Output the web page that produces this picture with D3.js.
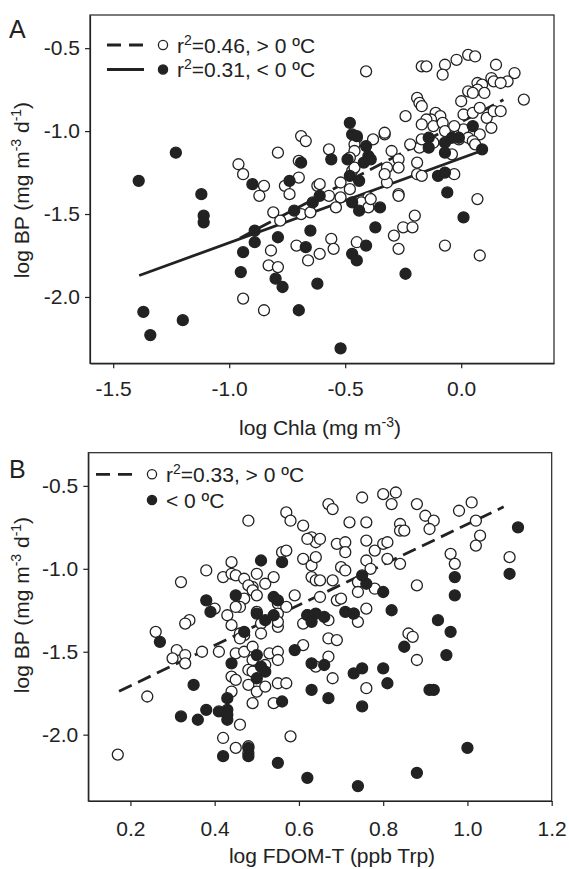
<!DOCTYPE html>
<html>
<head>
<meta charset="utf-8">
<script src="https://d3js.org/d3.v7.min.js"></script>
<style>
  body { margin: 0; background: #fff; }
  svg { display: block; }
  text { font-family: "Liberation Sans", Arial, sans-serif; fill: #222; }
</style>
</head>
<body>
<svg id="chart" width="569" height="869"></svg>
<script>
// ---- data ----
// panel A: log Chla vs log BP
var chlaWarm = [
  [-0.69,-1.03],[-0.67,-1.06],[-0.79,-1.13],[-0.96,-1.20],[-0.94,-1.26],[-0.85,-1.33],[-0.87,-1.39],[-0.70,-1.18],
  [-0.70,-1.28],[-0.76,-1.33],[-0.74,-1.38],[-0.62,-1.33],[-0.41,-0.64],[-0.17,-0.61],[-0.15,-0.61],[-0.07,-0.60],
  [-0.08,-0.66],[-0.02,-0.57],[0.03,-0.54],[0.06,-0.55],[0.15,-0.60],[0.23,-0.65],[0.20,-0.70],[0.13,-0.68],
  [0.14,-0.70],[0.17,-0.71],[0.07,-0.71],[0.09,-0.72],[0.07,-0.75],[0.03,-0.76],[0.10,-0.77],[0.05,-0.77],
  [0.27,-0.81],[0.00,-0.82],[-0.19,-0.80],[-0.18,-0.83],[-0.17,-0.85],[-0.24,-0.91],[-0.11,-0.89],[-0.09,-0.91],
  [-0.13,-0.93],[-0.15,-0.93],[-0.17,-0.96],[-0.12,-0.97],[-0.08,-0.95],[-0.07,-1.00],[0.01,-0.90],[0.05,-0.89],
  [0.08,-0.86],[0.11,-0.92],[0.14,-0.88],[0.17,-0.88],[0.13,-0.98],[0.01,-0.99],[-0.03,-0.97],[-0.01,-1.05],
  [0.03,-1.04],[0.08,-1.02],[0.05,-1.06],[0.06,-1.08],[-0.04,-1.14],[-0.12,-1.07],[-0.18,-1.10],[-0.22,-1.08],
  [-0.17,-1.05],[-0.33,-1.02],[-0.33,-1.01],[-0.30,-1.12],[-0.27,-1.17],[-0.32,-1.22],[-0.27,-1.22],[-0.32,-1.31],
  [-0.19,-1.19],[-0.19,-1.26],[-0.17,-1.27],[-0.03,-1.26],[0.07,-1.41],[-0.27,-1.38],[-0.45,-1.04],[-0.38,-1.05],
  [-0.46,-1.08],[-0.46,-1.12],[-0.57,-1.11],[-0.48,-1.16],[-0.47,-1.24],[-0.46,-1.22],[-0.61,-1.32],[-0.52,-1.31],
  [-0.48,-1.35],[-0.57,-1.39],[-0.52,-1.40],[-0.40,-1.40],[-0.33,-1.26],[-0.81,-1.49],[-0.78,-1.54],[-0.69,-1.50],
  [-0.65,-1.49],[-0.82,-1.72],[-0.71,-1.69],[-0.66,-1.78],[-0.83,-1.81],[-0.79,-1.82],[-0.94,-2.01],[-0.85,-2.08],
  [-0.61,-1.74],[-0.54,-1.46],[-0.43,-1.43],[-0.40,-1.46],[-0.39,-1.41],[-0.27,-1.39],[-0.20,-1.51],[-0.25,-1.58],
  [-0.21,-1.58],[-0.29,-1.63],[-0.56,-1.65],[-0.55,-1.71],[-0.45,-1.67],[-0.27,-1.71],[-0.07,-1.69],[0.08,-1.75]
];
var chlaCold = [
  [-1.23,-1.13],[-1.39,-1.30],[-1.12,-1.38],[-0.90,-1.32],[-0.69,-1.19],[-0.74,-1.30],[0.05,-0.97],[-0.04,-1.04],
  [-0.01,-1.04],[0.09,-1.11],[-0.07,-1.13],[-0.07,-1.07],[-0.14,-1.04],[-0.14,-1.10],[-0.10,-1.27],[-0.07,-1.25],
  [-0.06,-1.37],[-0.48,-0.95],[-0.47,-1.02],[-0.45,-1.03],[-0.41,-1.09],[-0.40,-1.15],[-0.42,-1.19],[-0.39,-1.17],
  [-0.56,-1.17],[-0.49,-1.17],[-0.48,-1.27],[-0.44,-1.30],[-0.61,-1.39],[-1.11,-1.51],[-1.11,-1.55],[-1.37,-2.09],
  [-1.34,-2.23],[-1.20,-2.14],[-0.72,-1.48],[-0.89,-1.60],[-0.89,-1.67],[-0.79,-1.64],[-0.94,-1.73],[-0.95,-1.85],
  [-0.67,-1.70],[-0.65,-1.60],[-0.80,-1.89],[-0.77,-1.94],[-0.62,-1.92],[-0.70,-2.08],[-0.64,-1.43],[-0.47,-1.43],
  [-0.44,-1.48],[-0.35,-1.46],[0.01,-1.52],[-0.37,-1.58],[-0.41,-1.69],[-0.47,-1.74],[-0.45,-1.78],[-0.24,-1.86],
  [-0.52,-2.31]
];
// regression fits: [slope, intercept, xmin, xmax]
var chlaWarmFit = [0.734, -0.945, -0.954, 0.182];
var chlaColdFit = [0.51, -1.163, -1.388, 0.079];

// panel B: log FDOM-T vs log BP
var fdomWarm = [
  [0.48,-0.71],[0.57,-0.66],[0.58,-0.71],[0.61,-0.74],[0.63,-0.81],[0.64,-0.84],[0.62,-0.82],[0.56,-0.90],
  [0.57,-0.89],[0.44,-0.96],[0.61,-0.94],[0.63,-0.98],[0.64,-0.93],[0.38,-1.01],[0.32,-1.08],[0.42,-1.05],
  [0.44,-1.03],[0.45,-1.04],[0.47,-1.06],[0.50,-1.03],[0.49,-1.11],[0.48,-1.10],[0.49,-1.13],[0.50,-1.16],
  [0.52,-1.09],[0.54,-1.05],[0.63,-1.05],[0.64,-1.07],[0.47,-1.18],[0.46,-1.23],[0.55,-1.21],[0.59,-1.16],
  [0.57,-1.23],[0.40,-1.24],[0.43,-1.28],[0.34,-1.31],[0.75,-0.57],[0.80,-0.55],[0.83,-0.54],[0.82,-0.61],
  [0.88,-0.61],[0.67,-0.61],[0.68,-0.64],[0.72,-0.72],[0.76,-0.72],[0.90,-0.68],[0.92,-0.71],[0.91,-0.76],
  [0.84,-0.73],[0.84,-0.77],[0.85,-0.77],[0.98,-0.65],[1.01,-0.60],[1.02,-0.71],[1.03,-0.80],[1.02,-0.86],
  [0.96,-0.91],[0.97,-0.97],[1.10,-0.93],[0.88,-1.10],[0.65,-0.82],[0.69,-0.85],[0.71,-0.84],[0.71,-0.90],
  [0.76,-0.83],[0.78,-0.89],[0.80,-0.85],[0.81,-0.84],[0.81,-0.94],[0.84,-0.97],[0.76,-0.95],[0.77,-1.00],
  [0.70,-0.99],[0.71,-1.01],[0.65,-1.07],[0.68,-1.07],[0.74,-1.08],[0.74,-1.14],[0.78,-1.12],[0.65,-1.17],
  [0.69,-1.19],[0.70,-1.18],[0.76,-1.24],[0.45,-1.23],[0.50,-1.26],[0.51,-1.33],[0.55,-1.27],[0.26,-1.38],
  [0.33,-1.33],[0.44,-1.34],[0.46,-1.39],[0.47,-1.40],[0.46,-1.42],[0.51,-1.39],[0.55,-1.35],[0.55,-1.32],
  [0.62,-1.28],[0.61,-1.46],[0.31,-1.49],[0.30,-1.54],[0.33,-1.52],[0.33,-1.57],[0.37,-1.50],[0.41,-1.50],
  [0.45,-1.51],[0.47,-1.50],[0.49,-1.47],[0.49,-1.55],[0.53,-1.51],[0.55,-1.50],[0.55,-1.55],[0.52,-1.58],
  [0.48,-1.61],[0.49,-1.62],[0.44,-1.65],[0.45,-1.67],[0.48,-1.70],[0.50,-1.74],[0.52,-1.71],[0.55,-1.69],
  [0.57,-1.69],[0.64,-1.59],[0.24,-1.77],[0.44,-1.74],[0.49,-1.81],[0.54,-1.81],[0.46,-1.94],[0.42,-2.02],
  [0.58,-2.01],[0.45,-2.08],[0.48,-2.07],[0.48,-2.11],[0.17,-2.12],[0.73,-1.27],[0.74,-1.32],[0.67,-1.31],
  [0.61,-1.33],[0.86,-1.39],[0.87,-1.41],[0.88,-1.55],[0.67,-1.42],[0.69,-1.43],[0.67,-1.53],[0.68,-1.66],
  [0.76,-1.72]
];
var fdomCold = [
  [0.51,-0.95],[0.56,-0.96],[0.38,-1.19],[0.45,-1.16],[0.54,-1.17],[0.55,-1.19],[0.39,-1.26],[0.50,-1.27],
  [0.52,-1.31],[0.54,-1.28],[0.62,-1.28],[0.64,-1.27],[1.12,-0.75],[1.10,-1.03],[0.97,-1.05],[0.97,-1.16],
  [0.75,-1.04],[0.76,-1.09],[0.80,-1.14],[0.82,-1.25],[0.71,-1.26],[0.73,-1.27],[0.66,-1.29],[0.93,-1.31],
  [0.27,-1.44],[0.47,-1.38],[0.63,-1.32],[0.59,-1.49],[0.44,-1.57],[0.50,-1.52],[0.51,-1.59],[0.52,-1.62],
  [0.50,-1.66],[0.63,-1.57],[0.63,-1.73],[0.35,-1.70],[0.43,-1.78],[0.43,-1.85],[0.43,-1.88],[0.43,-1.91],
  [0.41,-1.86],[0.38,-1.85],[0.56,-1.80],[0.32,-1.89],[0.36,-1.91],[0.48,-2.13],[0.42,-2.13],[0.48,-2.08],
  [0.55,-2.17],[0.62,-2.26],[0.96,-1.38],[0.95,-1.52],[0.85,-1.47],[0.66,-1.58],[0.73,-1.63],[0.75,-1.60],
  [0.80,-1.60],[0.81,-1.69],[0.67,-1.78],[0.75,-1.83],[0.91,-1.73],[0.92,-1.73],[1.00,-2.08],[0.74,-2.31],
  [0.88,-2.23]
];
var fdomWarmFit = [1.218, -1.949, 0.173, 1.086];

var bpTicks = [-2.0, -1.5, -1.0, -0.5];
var chlaTicks = [-1.5, -1.0, -0.5, 0.0];
var fdomTicks = [0.2, 0.4, 0.6, 0.8, 1.0, 1.2];

var ink = "#222";
var fs = 21, fsSup = 14;
var svg = d3.select("#chart");

function fmt(d) { return d.toFixed(1); }

function panel(o) {
  var g = svg.append("g");
  var x = d3.scaleLinear().domain(o.xDomain).range([o.left, o.right]);
  var y = d3.scaleLinear().domain([-2.4, -0.3]).range([o.bottom, o.top]);

  // frame
  g.append("rect")
    .attr("x", o.left).attr("y", o.top)
    .attr("width", o.right - o.left).attr("height", o.bottom - o.top)
    .attr("fill", "none").attr("stroke", ink).attr("stroke-width", 1.2);

  var yAx = g.append("g").attr("transform", "translate(" + o.left + ",0)")
    .call(d3.axisLeft(y).tickValues(bpTicks).tickFormat(fmt).tickSize(5).tickSizeOuter(0).tickPadding(5));
  var xAx = g.append("g").attr("transform", "translate(0," + o.bottom + ")")
    .call(d3.axisBottom(x).tickValues(o.xTicks).tickFormat(fmt).tickSize(5).tickSizeOuter(0).tickPadding(o.xPad));
  [yAx, xAx].forEach(function(a) {
    a.selectAll("path, line").attr("stroke", ink).attr("stroke-width", 1.2);
    a.selectAll("text").attr("font-size", fs).attr("fill", ink)
      .style("font-family", "'Liberation Sans', Arial, sans-serif");
  });

  // axis titles
  var yt = g.append("text")
    .attr("transform", "translate(" + 29 + "," + o.yTitleY + ") rotate(-90)")
    .attr("text-anchor", "middle").attr("font-size", fs);
  yt.append("tspan").text("log BP (mg m");
  yt.append("tspan").attr("baseline-shift", "super").attr("font-size", fsSup).text("-3");
  yt.append("tspan").text(" d");
  yt.append("tspan").attr("baseline-shift", "super").attr("font-size", fsSup).text("-1");
  yt.append("tspan").text(")");

  var xt = g.append("text")
    .attr("x", o.xTitleX).attr("y", o.xTitleY)
    .attr("text-anchor", "middle").attr("font-size", fs);
  o.xTitle.forEach(function(p) {
    var t = xt.append("tspan").text(p[0]);
    if (p[1]) t.attr("baseline-shift", "super").attr("font-size", fsSup);
  });

  g.append("text").attr("x", 9).attr("y", o.letterY)
    .attr("font-size", 25).text(o.letter);

  // fit lines
  o.fits.forEach(function(f) {
    var p = f.fit;
    g.append("line")
      .attr("x1", x(p[2])).attr("y1", y(p[0] * p[2] + p[1]))
      .attr("x2", x(p[3])).attr("y2", y(p[0] * p[3] + p[1]))
      .attr("stroke", ink).attr("stroke-width", 2.8)
      .attr("stroke-dasharray", f.dash ? "14,7" : null);
  });

  // points
  g.append("g").selectAll("circle").data(o.warm).enter().append("circle")
    .attr("cx", function(d) { return x(d[0]); })
    .attr("cy", function(d) { return y(d[1]); })
    .attr("r", 5.5).attr("fill", "#fff").attr("stroke", ink).attr("stroke-width", 1.3);
  g.append("g").selectAll("circle").data(o.cold).enter().append("circle")
    .attr("cx", function(d) { return x(d[0]); })
    .attr("cy", function(d) { return y(d[1]); })
    .attr("r", 5.5).attr("fill", ink).attr("stroke", ink).attr("stroke-width", 1.3);

  // legend
  o.legend.forEach(function(l, i) {
    var ly = o.legendY + i * o.legendStep;
    if (l.line) {
      g.append("line").attr("x1", o.legendX).attr("x2", o.legendX + 37)
        .attr("y1", ly).attr("y2", ly)
        .attr("stroke", ink).attr("stroke-width", 2.8)
        .attr("stroke-dasharray", l.line === "dash" ? "14,8" : null);
    }
    g.append("circle").attr("cx", o.legendX + 56).attr("cy", ly).attr("r", 4.6)
      .attr("fill", l.open ? "#fff" : ink).attr("stroke", ink).attr("stroke-width", 1.3);
    var t = g.append("text").attr("x", o.legendX + 70).attr("y", ly + 7.5).attr("font-size", fs);
    if (l.r2) {
      t.append("tspan").text("r");
      t.append("tspan").attr("baseline-shift", "super").attr("font-size", fsSup).text("2");
      t.append("tspan").text("=" + l.r2 + ", " + l.label);
    } else {
      t.text(l.label);
    }
  });
}

panel({
  letter: "A", letterY: 38,
  left: 90, right: 554, top: 15, bottom: 363.3,
  xDomain: [-1.6, 0.4], xTicks: chlaTicks, xPad: 13,
  xTitle: [["log Chla (mg m"], ["-3", true], [")"]], xTitleX: 320, xTitleY: 435, yTitleY: 190,
  warm: chlaWarm, cold: chlaCold,
  fits: [{fit: chlaWarmFit, dash: true}, {fit: chlaColdFit, dash: false}],
  legendX: 107, legendY: 45, legendStep: 24.5,
  legend: [{line: "dash", open: true, r2: "0.46", label: "> 0 ºC"},
           {line: "solid", open: false, r2: "0.31", label: "< 0 ºC"}]
});

panel({
  letter: "B", letterY: 478,
  left: 88.3, right: 551.7, top: 452.7, bottom: 801,
  xDomain: [0.1, 1.2], xTicks: fdomTicks, xPad: 15,
  xTitle: [["log FDOM-T (ppb Trp)"]], xTitleX: 332, xTitleY: 863, yTitleY: 605,
  warm: fdomWarm, cold: fdomCold,
  fits: [{fit: fdomWarmFit, dash: true}],
  legendX: 96, legendY: 474.3, legendStep: 25.7,
  legend: [{line: "dash", open: true, r2: "0.33", label: "> 0 ºC"},
           {line: null, open: false, label: "< 0 ºC"}]
});
</script>
</body>
</html>
